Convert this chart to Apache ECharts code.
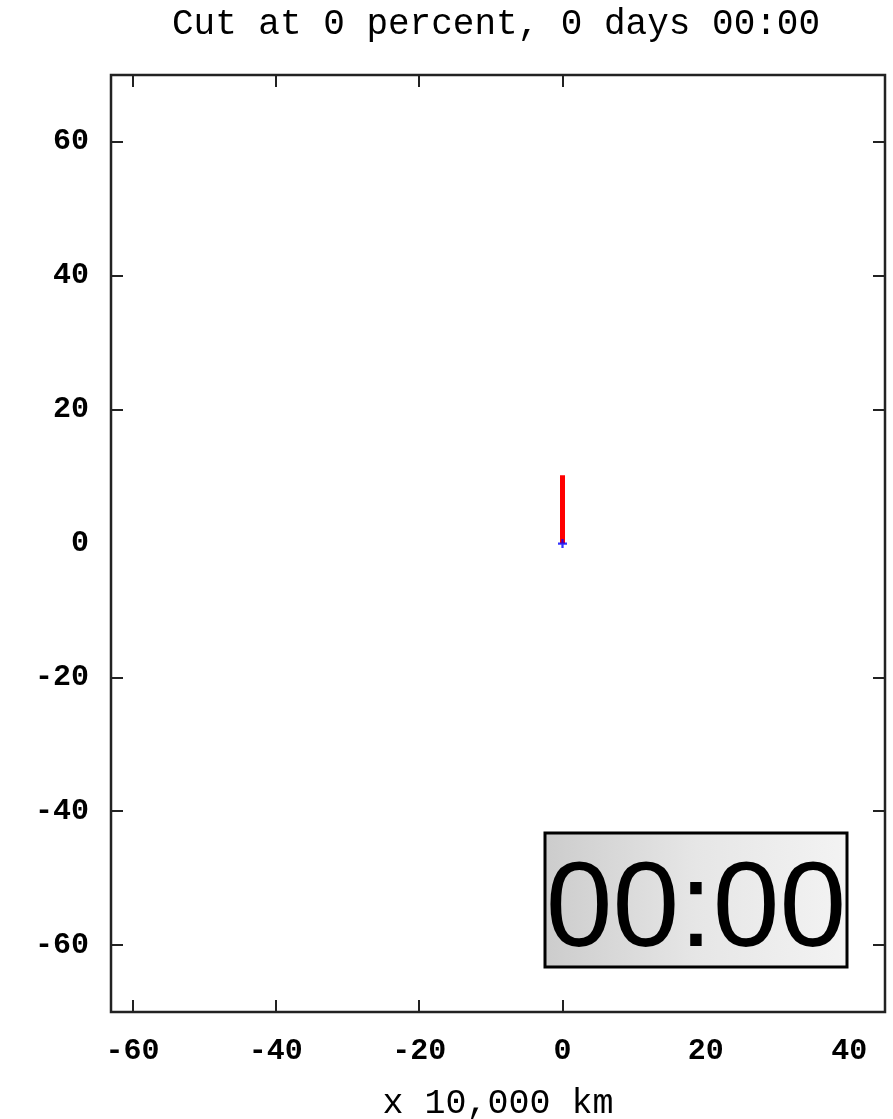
<!DOCTYPE html>
<html>
<head>
<meta charset="utf-8">
<script src="https://cdn.jsdelivr.net/npm/echarts@6/dist/echarts.min.js"></script>
<style>html,body{margin:0;padding:0;background:#fff;}#c{width:893px;height:1119px;}</style>
</head>
<body>
<div id="c"></div>
<script>
const titleText = 'Cut at 0 percent, 0 days 00:00';
const xLabelText = 'x 10,000 km';
const timerText = '00:00';
const xRange = [-63, 45];
const yRange = [-70, 70];
const xTickLabels = [-60, -40, -20, 0, 20, 40];
const xTickMarks = [-60, -40, -20, 0];
const yTickLabels = [-60, -40, -20, 0, 20, 40, 60];
const yTickMarks = [-60, -40, -20, 20, 40, 60];
const cutLine = [[0, 0], [0, 10.2]];
const centerPoint = [[0, 0]];

const font = '"Liberation Mono", "DejaVu Sans Mono", monospace';
const chart = echarts.init(document.getElementById('c'), null, {renderer: 'canvas'});
const tickStyle = {show: true, inside: true, length: 12, lineStyle: {color: '#222', width: 2}};
const noLine = {show: false, onZero: false};
chart.setOption({
  animation: false,
  backgroundColor: '#fff',
  grid: {left: 111, right: 8, top: 75, bottom: 107, containLabel: false, outerBoundsMode: 'none',
    show: true, borderColor: '#222', borderWidth: 2.5, backgroundColor: '#fff'},
  xAxis: [{
    type: 'value', min: xRange[0], max: xRange[1], position: 'bottom',
    axisLine: noLine, splitLine: {show: false},
    axisTick: Object.assign({customValues: xTickMarks}, tickStyle),
    axisLabel: {customValues: xTickLabels, color: '#000', fontFamily: font, fontSize: 30, fontWeight: 'bold', margin: 24},
    name: xLabelText, nameLocation: 'middle', nameGap: 74,
    nameTextStyle: {color: '#000', fontFamily: font, fontSize: 35}
  }, {
    type: 'value', min: xRange[0], max: xRange[1], position: 'top',
    axisLine: noLine, splitLine: {show: false},
    axisTick: Object.assign({customValues: xTickMarks}, tickStyle),
    axisLabel: {show: false}
  }],
  yAxis: [{
    type: 'value', min: yRange[0], max: yRange[1], position: 'left',
    axisLine: noLine, splitLine: {show: false},
    axisTick: Object.assign({customValues: yTickMarks}, tickStyle),
    axisLabel: {customValues: yTickLabels, color: '#000', fontFamily: font, fontSize: 30, fontWeight: 'bold', margin: 22}
  }, {
    type: 'value', min: yRange[0], max: yRange[1], position: 'right',
    axisLine: noLine, splitLine: {show: false},
    axisTick: Object.assign({customValues: yTickMarks}, tickStyle),
    axisLabel: {show: false}
  }],
  series: [{
    type: 'line', data: cutLine, showSymbol: false, symbol: 'none',
    lineStyle: {color: '#ff0000', width: 5}, z: 3
  }, {
    type: 'scatter', data: centerPoint,
    symbol: 'path://M3,0h2v3h3v2h-3v3h-2v-3h-3v-2h3z', symbolSize: 9,
    itemStyle: {color: '#0000ff'}, z: 4
  }],
  graphic: [{
    type: 'text', x: 496, y: 24,
    style: {text: titleText, fill: '#000', font: '36px ' + font, align: 'center', verticalAlign: 'middle'}
  }, {
    type: 'rect', shape: {x: 545, y: 833, width: 302, height: 134},
    style: {
      fill: new echarts.graphic.LinearGradient(0, 0, 1, 0, [
        {offset: 0, color: '#cccccc'}, {offset: 0.5, color: '#e6e6e6'}, {offset: 1, color: '#f3f3f3'}
      ]),
      stroke: '#000', lineWidth: 3
    }, z: 100
  }, {
    type: 'text', x: 696, y: 913, z: 101,
    style: {text: timerText, fill: '#000', font: '120px "Liberation Sans", Arial, sans-serif', align: 'center', verticalAlign: 'middle'}
  }]
});
</script>
</body>
</html>
